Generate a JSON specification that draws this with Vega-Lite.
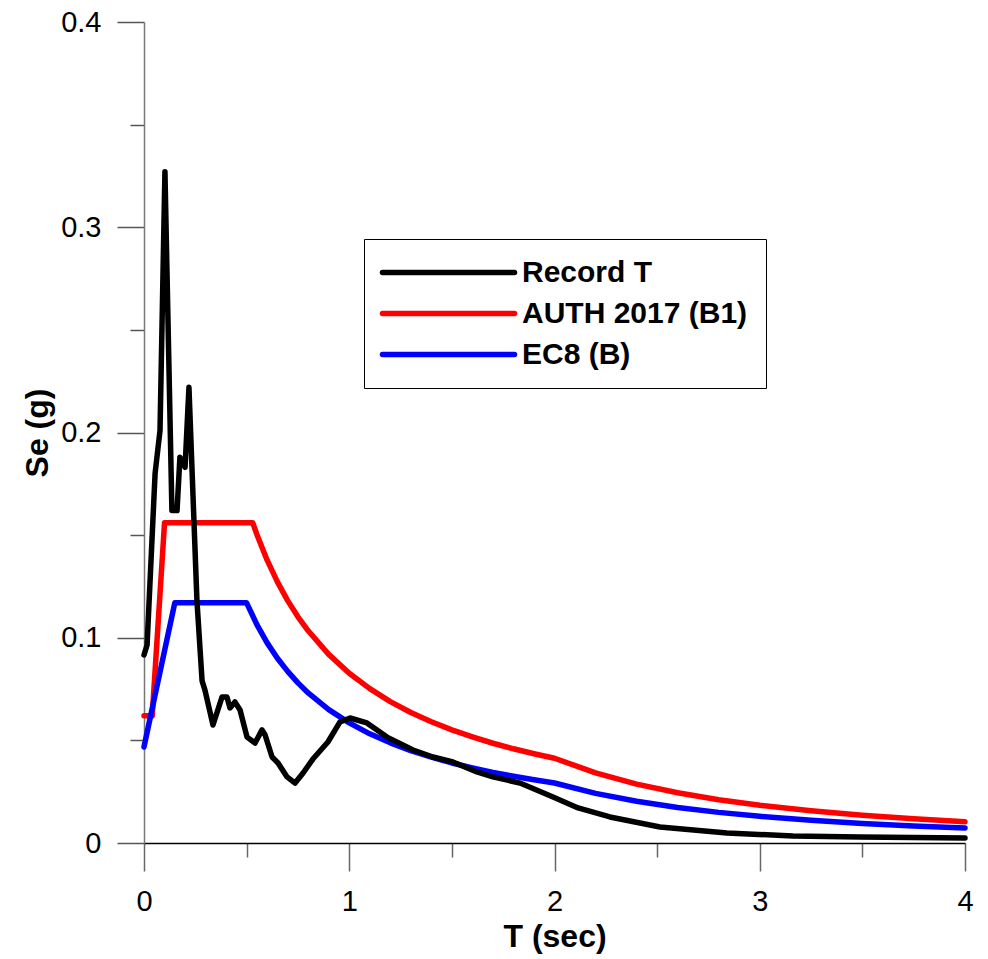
{
  "$schema": "https://vega.github.io/schema/vega-lite/v6.json",
  "width": 821,
  "height": 821,
  "autosize": {"type": "none"},
  "padding": {"left": 144, "top": 22, "right": 23, "bottom": 116},
  "background": "white",
  "config": {"view": {"stroke": null}, "font": "Liberation Sans"},
  "data": {"values": [
    {"series": "Record T", "T": 0, "Se": 0.0916},
    {"series": "Record T", "T": 0.015, "Se": 0.0965},
    {"series": "Record T", "T": 0.054, "Se": 0.180},
    {"series": "Record T", "T": 0.078, "Se": 0.201},
    {"series": "Record T", "T": 0.102, "Se": 0.327},
    {"series": "Record T", "T": 0.136, "Se": 0.162},
    {"series": "Record T", "T": 0.161, "Se": 0.162},
    {"series": "Record T", "T": 0.175, "Se": 0.188},
    {"series": "Record T", "T": 0.200, "Se": 0.183},
    {"series": "Record T", "T": 0.219, "Se": 0.222},
    {"series": "Record T", "T": 0.258, "Se": 0.118},
    {"series": "Record T", "T": 0.283, "Se": 0.079},
    {"series": "Record T", "T": 0.297, "Se": 0.0745},
    {"series": "Record T", "T": 0.336, "Se": 0.0575},
    {"series": "Record T", "T": 0.380, "Se": 0.0711},
    {"series": "Record T", "T": 0.404, "Se": 0.0711},
    {"series": "Record T", "T": 0.419, "Se": 0.0658},
    {"series": "Record T", "T": 0.443, "Se": 0.0687},
    {"series": "Record T", "T": 0.468, "Se": 0.0648},
    {"series": "Record T", "T": 0.502, "Se": 0.0516},
    {"series": "Record T", "T": 0.541, "Se": 0.0487},
    {"series": "Record T", "T": 0.575, "Se": 0.0551},
    {"series": "Record T", "T": 0.590, "Se": 0.0526},
    {"series": "Record T", "T": 0.624, "Se": 0.0419},
    {"series": "Record T", "T": 0.653, "Se": 0.0390},
    {"series": "Record T", "T": 0.697, "Se": 0.0322},
    {"series": "Record T", "T": 0.736, "Se": 0.0292},
    {"series": "Record T", "T": 0.775, "Se": 0.0341},
    {"series": "Record T", "T": 0.823, "Se": 0.0409},
    {"series": "Record T", "T": 0.896, "Se": 0.0492},
    {"series": "Record T", "T": 0.955, "Se": 0.0590},
    {"series": "Record T", "T": 1.004, "Se": 0.0609},
    {"series": "Record T", "T": 1.086, "Se": 0.0585},
    {"series": "Record T", "T": 1.184, "Se": 0.0516},
    {"series": "Record T", "T": 1.311, "Se": 0.0453},
    {"series": "Record T", "T": 1.408, "Se": 0.0419},
    {"series": "Record T", "T": 1.505, "Se": 0.0395},
    {"series": "Record T", "T": 1.622, "Se": 0.0346},
    {"series": "Record T", "T": 1.700, "Se": 0.0322},
    {"series": "Record T", "T": 1.832, "Se": 0.0292},
    {"series": "Record T", "T": 1.993, "Se": 0.0224},
    {"series": "Record T", "T": 2.115, "Se": 0.0171},
    {"series": "Record T", "T": 2.270, "Se": 0.0127},
    {"series": "Record T", "T": 2.514, "Se": 0.0078},
    {"series": "Record T", "T": 2.840, "Se": 0.0049},
    {"series": "Record T", "T": 3.162, "Se": 0.0034},
    {"series": "Record T", "T": 3.488, "Se": 0.0029},
    {"series": "Record T", "T": 4.0, "Se": 0.0024},
    {"series": "AUTH 2017 (B1)", "T": 0, "Se": 0.062},
    {"series": "AUTH 2017 (B1)", "T": 0.04, "Se": 0.062},
    {"series": "AUTH 2017 (B1)", "T": 0.1, "Se": 0.156},
    {"series": "AUTH 2017 (B1)", "T": 0.53, "Se": 0.156},
    {"series": "AUTH 2017 (B1)", "T": 0.55, "Se": 0.1503},
    {"series": "AUTH 2017 (B1)", "T": 0.6, "Se": 0.1378},
    {"series": "AUTH 2017 (B1)", "T": 0.65, "Se": 0.1272},
    {"series": "AUTH 2017 (B1)", "T": 0.7, "Se": 0.1181},
    {"series": "AUTH 2017 (B1)", "T": 0.75, "Se": 0.1102},
    {"series": "AUTH 2017 (B1)", "T": 0.8, "Se": 0.1034},
    {"series": "AUTH 2017 (B1)", "T": 0.9, "Se": 0.0919},
    {"series": "AUTH 2017 (B1)", "T": 1.0, "Se": 0.0827},
    {"series": "AUTH 2017 (B1)", "T": 1.1, "Se": 0.0752},
    {"series": "AUTH 2017 (B1)", "T": 1.2, "Se": 0.0689},
    {"series": "AUTH 2017 (B1)", "T": 1.3, "Se": 0.0636},
    {"series": "AUTH 2017 (B1)", "T": 1.4, "Se": 0.0591},
    {"series": "AUTH 2017 (B1)", "T": 1.5, "Se": 0.0551},
    {"series": "AUTH 2017 (B1)", "T": 1.6, "Se": 0.0517},
    {"series": "AUTH 2017 (B1)", "T": 1.7, "Se": 0.0486},
    {"series": "AUTH 2017 (B1)", "T": 1.8, "Se": 0.0459},
    {"series": "AUTH 2017 (B1)", "T": 1.9, "Se": 0.0435},
    {"series": "AUTH 2017 (B1)", "T": 2.0, "Se": 0.0413},
    {"series": "AUTH 2017 (B1)", "T": 2.2, "Se": 0.0342},
    {"series": "AUTH 2017 (B1)", "T": 2.4, "Se": 0.0287},
    {"series": "AUTH 2017 (B1)", "T": 2.6, "Se": 0.0245},
    {"series": "AUTH 2017 (B1)", "T": 2.8, "Se": 0.0211},
    {"series": "AUTH 2017 (B1)", "T": 3.0, "Se": 0.0184},
    {"series": "AUTH 2017 (B1)", "T": 3.25, "Se": 0.0157},
    {"series": "AUTH 2017 (B1)", "T": 3.5, "Se": 0.0135},
    {"series": "AUTH 2017 (B1)", "T": 3.75, "Se": 0.0118},
    {"series": "AUTH 2017 (B1)", "T": 4.0, "Se": 0.0103},
    {"series": "EC8 (B)", "T": 0, "Se": 0.0468},
    {"series": "EC8 (B)", "T": 0.15, "Se": 0.117},
    {"series": "EC8 (B)", "T": 0.5, "Se": 0.117},
    {"series": "EC8 (B)", "T": 0.55, "Se": 0.1064},
    {"series": "EC8 (B)", "T": 0.6, "Se": 0.0975},
    {"series": "EC8 (B)", "T": 0.65, "Se": 0.0900},
    {"series": "EC8 (B)", "T": 0.7, "Se": 0.0836},
    {"series": "EC8 (B)", "T": 0.75, "Se": 0.0780},
    {"series": "EC8 (B)", "T": 0.8, "Se": 0.0731},
    {"series": "EC8 (B)", "T": 0.9, "Se": 0.0650},
    {"series": "EC8 (B)", "T": 1.0, "Se": 0.0585},
    {"series": "EC8 (B)", "T": 1.1, "Se": 0.0532},
    {"series": "EC8 (B)", "T": 1.2, "Se": 0.0488},
    {"series": "EC8 (B)", "T": 1.3, "Se": 0.0450},
    {"series": "EC8 (B)", "T": 1.4, "Se": 0.0418},
    {"series": "EC8 (B)", "T": 1.5, "Se": 0.0390},
    {"series": "EC8 (B)", "T": 1.6, "Se": 0.0366},
    {"series": "EC8 (B)", "T": 1.7, "Se": 0.0344},
    {"series": "EC8 (B)", "T": 1.8, "Se": 0.0325},
    {"series": "EC8 (B)", "T": 1.9, "Se": 0.0308},
    {"series": "EC8 (B)", "T": 2.0, "Se": 0.02925},
    {"series": "EC8 (B)", "T": 2.2, "Se": 0.02417},
    {"series": "EC8 (B)", "T": 2.4, "Se": 0.02031},
    {"series": "EC8 (B)", "T": 2.6, "Se": 0.01731},
    {"series": "EC8 (B)", "T": 2.8, "Se": 0.01492},
    {"series": "EC8 (B)", "T": 3.0, "Se": 0.0130},
    {"series": "EC8 (B)", "T": 3.25, "Se": 0.01108},
    {"series": "EC8 (B)", "T": 3.5, "Se": 0.00955},
    {"series": "EC8 (B)", "T": 3.75, "Se": 0.00832},
    {"series": "EC8 (B)", "T": 4.0, "Se": 0.00731}
  ]},
  "encoding": {
    "x": {
      "field": "T", "type": "quantitative",
      "scale": {"domain": [0, 4], "nice": false, "zero": false},
      "title": "T (sec)",
      "axis": {
        "values": [0, 0.5, 1, 1.5, 2, 2.5, 3, 3.5, 4],
        "labelExpr": "round(datum.value*10) % 10 == 0 ? format(datum.value, '~g') : ''",
        "tickSize": {"condition": {"test": "round(datum.value*10) % 10 == 0", "value": 28}, "value": 14},
        "labelPadding": 16,
        "labelFontSize": 29,
        "labelColor": "#000",
        "labelFlush": false,
        "labelOverlap": false,
        "domainColor": "#000",
        "domainWidth": 1.5,
        "tickColor": "#666",
        "tickWidth": 1.5,
        "grid": false,
        "titleFontSize": 32,
        "titleFontWeight": "bold",
        "titleColor": "#000",
        "titlePadding": 5
      }
    },
    "y": {
      "field": "Se", "type": "quantitative",
      "scale": {"domain": [0, 0.4], "nice": false},
      "title": "Se (g)",
      "axis": {
        "values": [0, 0.05, 0.1, 0.15, 0.2, 0.25, 0.3, 0.35, 0.4],
        "labelExpr": "round(datum.value*100) % 10 == 0 ? format(datum.value, '~g') : ''",
        "tickSize": {"condition": {"test": "round(datum.value*100) % 10 == 0", "value": 27}, "value": 14},
        "labelPadding": 16,
        "labelFontSize": 29,
        "labelColor": "#000",
        "labelFlush": false,
        "labelOverlap": false,
        "domainColor": "#777",
        "domainWidth": 1.5,
        "tickColor": "#555",
        "tickWidth": 1.5,
        "grid": false,
        "titleFontSize": 32,
        "titleFontWeight": "bold",
        "titleColor": "#000",
        "titlePadding": 6
      }
    },
    "color": {
      "field": "series", "type": "nominal",
      "scale": {"domain": ["Record T", "AUTH 2017 (B1)", "EC8 (B)"], "range": ["#000000", "#ff0000", "#0000ff"]},
      "legend": {
        "orient": "none",
        "legendX": 220,
        "legendY": 217,
        "title": null,
        "padding": 18,
        "strokeColor": "#000",
        "fillColor": "#fff",
        "symbolType": "M-5.28,0H5.28",
        "symbolSize": 625,
        "symbolStrokeWidth": 5.5,
        "symbolFillColor": "transparent",
        "symbolOffset": 51,
        "labelOffset": 58,
        "labelFontSize": 30,
        "labelFontWeight": "bold",
        "labelColor": "#000",
        "labelLimit": 400,
        "rowPadding": 10,
        "encode": {"symbols": {"update": {"strokeCap": {"value": "round"}}}}
      }
    }
  },
  "layer": [
    {"transform": [{"filter": "datum.series == 'AUTH 2017 (B1)'"}], "mark": {"type": "line", "strokeWidth": 5.5, "strokeCap": "round", "strokeJoin": "round"}, "encoding": {}},
    {"transform": [{"filter": "datum.series == 'EC8 (B)'"}], "mark": {"type": "line", "strokeWidth": 5.5, "strokeCap": "round", "strokeJoin": "round"}, "encoding": {}},
    {"transform": [{"filter": "datum.series == 'Record T'"}], "mark": {"type": "line", "strokeWidth": 5.5, "strokeCap": "round", "strokeJoin": "round"}, "encoding": {}}
  ]
}
